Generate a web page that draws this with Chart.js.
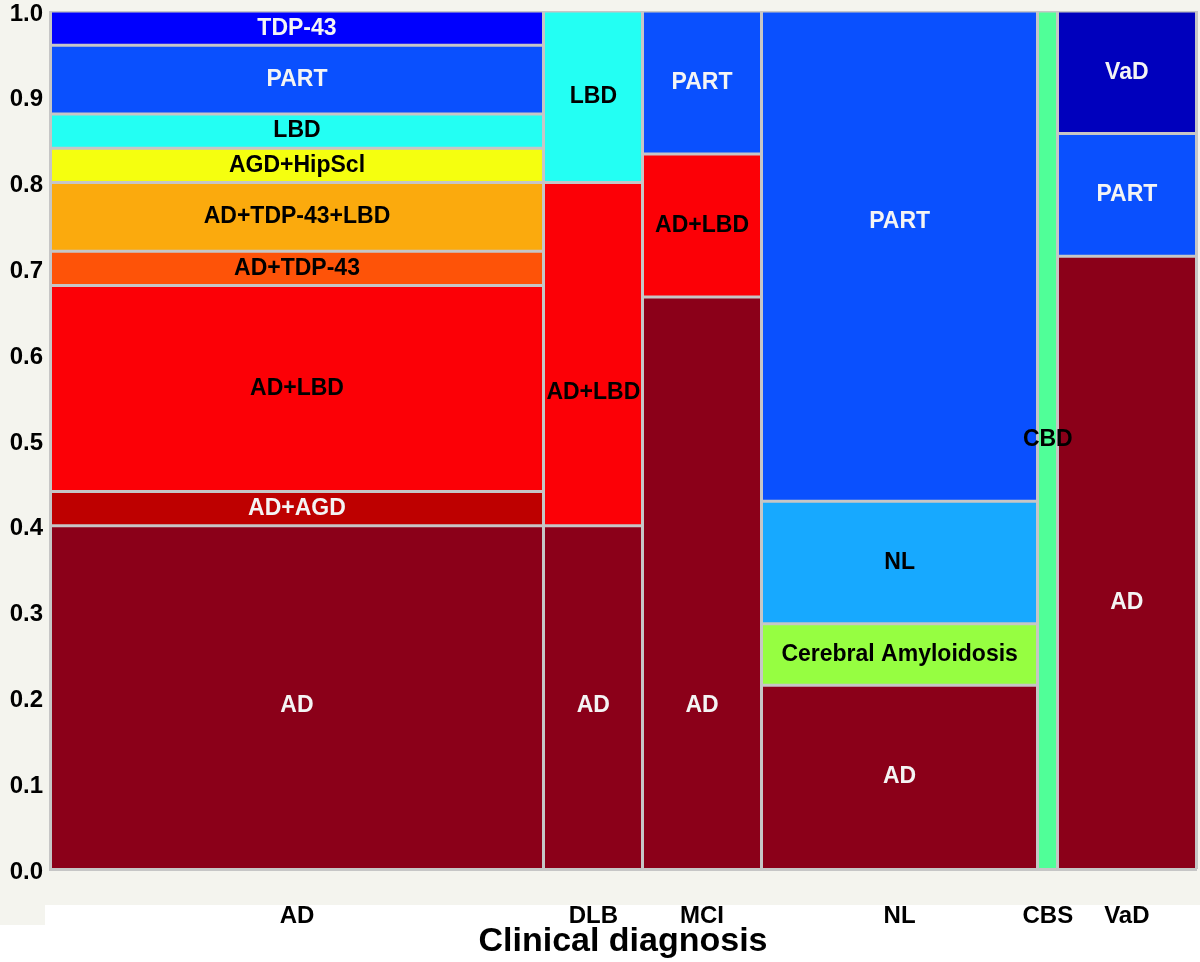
<!DOCTYPE html>
<html>
<head>
<meta charset="utf-8">
<script src="https://cdn.jsdelivr.net/npm/chart.js@4.4.1/dist/chart.umd.min.js"></script>
<style>
  html, body { margin: 0; padding: 0; background: #fff; }
  #wrap { width: 1200px; height: 962px; position: relative; }
</style>
</head>
<body>
<div id="wrap"><canvas id="mosaic"></canvas></div>
<script>
// clinical diagnosis columns; cases per neuropathology group, bottom to top
const diagnoses = ['AD', 'DLB', 'MCI', 'NL', 'CBS', 'VaD'];

const adGroups  = ['AD', 'AD+AGD', 'AD+LBD', 'AD+TDP-43', 'AD+TDP-43+LBD', 'AGD+HipScl', 'LBD', 'PART', 'TDP-43'];
const adCounts  = [20, 2, 12, 2, 4, 2, 2, 4, 2];
const dlbGroups = ['AD', 'AD+LBD', 'LBD'];
const dlbCounts = [4, 4, 2];
const mciGroups = ['AD', 'AD+LBD', 'PART'];
const mciCounts = [8, 2, 2];
const nlGroups  = ['AD', 'Cerebral Amyloidosis', 'NL', 'PART'];
const nlCounts  = [6, 2, 4, 16];
const cbsGroups = ['CBD'];
const cbsCounts = [2];
const vadGroups = ['AD', 'PART', 'VaD'];
const vadCounts = [10, 2, 2];

const yTicks = [0, 0.1, 0.2, 0.3, 0.4, 0.5, 0.6, 0.7, 0.8, 0.9, 1.0];
const yTickLabels = ['0.0', '0.1', '0.2', '0.3', '0.4', '0.5', '0.6', '0.7', '0.8', '0.9', '1.0'];

// styling
const groupColors = {
  'AD': '#8b0019',
  'AD+AGD': '#be0000',
  'AD+LBD': '#fc0006',
  'AD+TDP-43': '#fe5308',
  'AD+TDP-43+LBD': '#fbaa0d',
  'AGD+HipScl': '#f5ff0f',
  'LBD': '#23fff3',
  'PART': '#0a50fe',
  'TDP-43': '#0000fe',
  'Cerebral Amyloidosis': '#96fe41',
  'NL': '#17a9ff',
  'CBD': '#50ff98',
  'VaD': '#0000bd'
};
const whiteText = ['AD', 'AD+AGD', 'PART', 'TDP-43', 'VaD'];
const sepColor = '#c6c6c6';
// where the labels sit when not in the middle of their tile (y axis units)
const labelAt = { 'AD|AD': 0.19, 'DLB|AD': 0.19, 'DLB|AD+LBD': 0.555, 'MCI|AD': 0.19, 'NL|PART': 0.754, 'VaD|AD': 0.31 };

const FONT = '"Liberation Sans", Arial, sans-serif';
Chart.defaults.font.family = FONT;

const groups = [adGroups, dlbGroups, mciGroups, nlGroups, cbsGroups, vadGroups];
const counts = [adCounts, dlbCounts, mciCounts, nlCounts, cbsCounts, vadCounts];
const colTotals = counts.map(c => c.reduce((a, b) => a + b, 0));
const colEdges = [0];
colTotals.forEach(t => colEdges.push(colEdges[colEdges.length - 1] + t));
const grandTotal = colEdges[colEdges.length - 1];
const colCenters = colTotals.map((t, i) => colEdges[i] + t / 2);

const datasets = [];
const tiles = [];
groups.forEach((g, c) => {
  let cum = 0;
  g.forEach((name, k) => {
    const lo = cum / colTotals[c];
    cum += counts[c][k];
    const hi = cum / colTotals[c];
    datasets.push({
      label: diagnoses[c] + ' / ' + name,
      data: [{ x: colEdges[c], y: hi }, { x: colEdges[c + 1], y: hi }],
      fill: { value: lo },
      backgroundColor: groupColors[name],
      borderColor: sepColor,
      borderWidth: 3,
      pointRadius: 0,
      tension: 0
    });
    const key = diagnoses[c] + '|' + name;
    tiles.push({ name, x: colCenters[c], y: key in labelAt ? labelAt[key] : (lo + hi) / 2 });
  });
});

const pageBg = {
  id: 'pageBg',
  beforeDraw(chart) {
    const ctx = chart.ctx;
    ctx.save();
    ctx.fillStyle = '#f4f4ee';
    ctx.fillRect(0, 0, chart.width, 905);
    ctx.fillRect(0, 905, 45, 20);
    ctx.restore();
  }
};

const tileLabels = {
  id: 'tileLabels',
  afterDraw(chart) {
    const { ctx, scales: { x, y } } = chart;
    ctx.save();
    ctx.font = 'bold 23px ' + FONT;
    ctx.textAlign = 'center';
    ctx.textBaseline = 'middle';
    tiles.forEach(t => {
      ctx.fillStyle = whiteText.includes(t.name) ? '#f4f4f4' : '#000';
      ctx.fillText(t.name, x.getPixelForValue(t.x), y.getPixelForValue(t.y));
    });
    ctx.restore();
  }
};

new Chart(document.getElementById('mosaic'), {
  type: 'line',
  data: { datasets },
  plugins: [pageBg, tileLabels],
  options: {
    responsive: true,
    maintainAspectRatio: false,
    animation: false,
    layout: { padding: { top: 11, right: 4, left: 0, bottom: 0 } },
    plugins: {
      legend: { display: false },
      tooltip: { enabled: false },
      filler: { drawTime: 'beforeDatasetsDraw' }
    },
    scales: {
      x: {
        type: 'linear',
        position: 'bottom',
        min: 0,
        max: grandTotal,
        afterBuildTicks: s => { s.ticks = colCenters.map(v => ({ value: v })); },
        afterFit: s => { s.height = 93; s.paddingLeft = 0; s.paddingRight = 0; },
        grid: { display: false, drawTicks: false },
        border: { display: true, color: sepColor, width: 3, z: 1 },
        ticks: {
          autoSkip: false,
          maxRotation: 0,
          padding: 33,
          color: '#000',
          font: { size: 24, weight: 'bold' },
          callback: (v, i) => diagnoses[i]
        },
        title: {
          display: true,
          text: 'Clinical diagnosis',
          color: '#000',
          font: { size: 34, weight: 'bold' },
          padding: { top: 0, bottom: 0 }
        }
      },
      x2: {
        type: 'linear',
        position: 'top',
        min: 0,
        max: grandTotal,
        afterBuildTicks: s => { s.ticks = colEdges.map(v => ({ value: v })); },
        afterFit: s => { s.height = 0; s.paddingLeft = 0; s.paddingRight = 0; },
        grid: { color: sepColor, lineWidth: 3, drawTicks: false, z: 1 },
        border: { display: false },
        ticks: { display: false }
      },
      y: {
        min: 0,
        max: 1,
        afterBuildTicks: s => { s.ticks = yTicks.map(v => ({ value: v })); },
        afterFit: s => { s.width = 50; s.paddingTop = 0; s.paddingBottom = 0; },
        grid: { display: false, drawTicks: false },
        border: { display: false },
        ticks: {
          padding: 7,
          labelOffset: 3,
          color: '#000',
          font: { size: 24, weight: 'bold', lineHeight: 1 },
          callback: (v, i) => yTickLabels[i]
        }
      }
    }
  }
});
</script>
</body>
</html>
